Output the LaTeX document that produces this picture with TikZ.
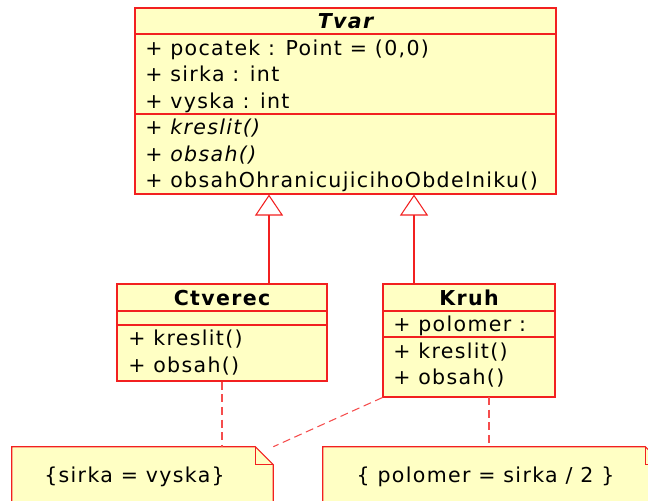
\documentclass[tikz,border=0pt]{standalone}
\usepackage{fontspec}
\setmainfont{DejaVu Sans}[LetterSpace=6.5]
\usepackage{tikz}
\usetikzlibrary{arrows.meta}

\definecolor{umlred}{RGB}{242,32,32}
\definecolor{umlfill}{RGB}{255,255,196}

\newcommand{\umlsize}{\fontsize{15.4}{18}\selectfont}

\begin{document}
\begin{tikzpicture}[x=0.75pt, y=-0.75pt,
    font=\umlsize,
    classbox/.style={draw=umlred, fill=umlfill, line width=0.8pt, inner sep=0pt},
    notebox/.style={inner sep=0pt},
    noteline/.style={draw=umlred, fill=umlfill, line width=0.8pt},
    sepline/.style={draw=umlred, line width=0.8pt},
    member/.style={anchor=base west, inner sep=0pt},
    classname/.style={anchor=base, inner sep=0pt, font=\umlsize\bfseries},
    notetext/.style={anchor=base, inner sep=0pt},
    inherit/.style={draw=umlred, line width=0.8pt, -{Triangle[open, length=15.75pt, width=21pt]}},
    noteanchor/.style={draw=umlred!80, line width=0.8pt, dash pattern=on 6pt off 3.5pt}]
  \useasboundingbox (0,0) rectangle (648,500);

  % class Tvar
  \node[classbox, minimum width=315.75pt, minimum height=139.5pt] (tvar) at (345.5,101) {};
  \draw[sepline] (135,34) -- (556,34);
  \draw[sepline] (135,114) -- (556,114);
  \node[classname, font=\umlsize\bfseries\itshape] (tvar-name) at (345.5,28) {Tvar};
  \node[member] (tvar-a1) at (145,55) {+ pocatek : Point = (0,0)};
  \node[member] (tvar-a2) at (145,81.5) {+ sirka : int};
  \node[member] (tvar-a3) at (145,108) {+ vyska : int};
  \node[member] (tvar-m1) at (145,134.5) {+ \textit{kreslit()}};
  \node[member] (tvar-m2) at (145,161) {+ \textit{obsah()}};
  \node[member] (tvar-m3) at (145,187.5) {+ obsahOhranicujicihoObdelniku()};

  % class Ctverec
  \node[classbox, minimum width=157.5pt, minimum height=72.75pt] (ctverec) at (222,332.5) {};
  \draw[sepline] (117,311) -- (327,311);
  \draw[sepline] (117,325) -- (327,325);
  \node[classname] (ctverec-name) at (222,305) {Ctverec};
  \node[member] (ctverec-m1) at (128,345) {+ kreslit()};
  \node[member] (ctverec-m2) at (128,372) {+ obsah()};

  % class Kruh
  \node[classbox, minimum width=129pt, minimum height=84.75pt] (kruh) at (469,340.5) {};
  \draw[sepline] (383,311) -- (555,311);
  \draw[sepline] (383,337) -- (555,337);
  \node[classname] (kruh-name) at (469,305) {Kruh};
  \node[member] (kruh-a1) at (393,331.5) {+ polomer :};
  \node[member] (kruh-m1) at (393,358) {+ kreslit()};
  \node[member] (kruh-m2) at (393,384) {+ obsah()};

  % generalisation
  \coordinate (ctverec-up) at (269,284);
  \coordinate (kruh-up) at (414,284);
  \draw[inherit] (ctverec-up) -- (ctverec-up |- tvar.south);
  \draw[inherit] (kruh-up) -- (kruh-up |- tvar.south);

  % notes
  \node[notebox, minimum width=195.75pt, minimum height=51pt] (note1) at (142.5,481) {};
  \node[notebox, minimum width=255pt, minimum height=51pt] (note2) at (493,481) {};
  \foreach \n in {note1, note2} {
    \draw[noteline] (\n.south west) -- (\n.north west) -- ([xshift=-13.5pt]\n.north east)
      -- ([yshift=-13.5pt]\n.north east) -- (\n.south east) -- cycle;
    \draw[sepline] ([xshift=-13.5pt]\n.north east) -- ([xshift=-13.5pt, yshift=-13.5pt]\n.north east)
      -- ([yshift=-13.5pt]\n.north east);
  }
  \node[notetext] (note1-text) at (134.5,482.5) {\{sirka = vyska\}};
  \node[notetext] (note2-text) at (485.5,482.5) {\{ polomer = sirka / 2 \}};

  % note links
  \coordinate (kruh-down) at (489,397);
  \draw[noteanchor] (ctverec.south) -- (ctverec.south |- note1.north);
  \draw[noteanchor] (kruh-down) -- (kruh-down |- note2.north);
  \draw[noteanchor] (kruh.south west) -- (note1.north east);
\end{tikzpicture}
\end{document}
